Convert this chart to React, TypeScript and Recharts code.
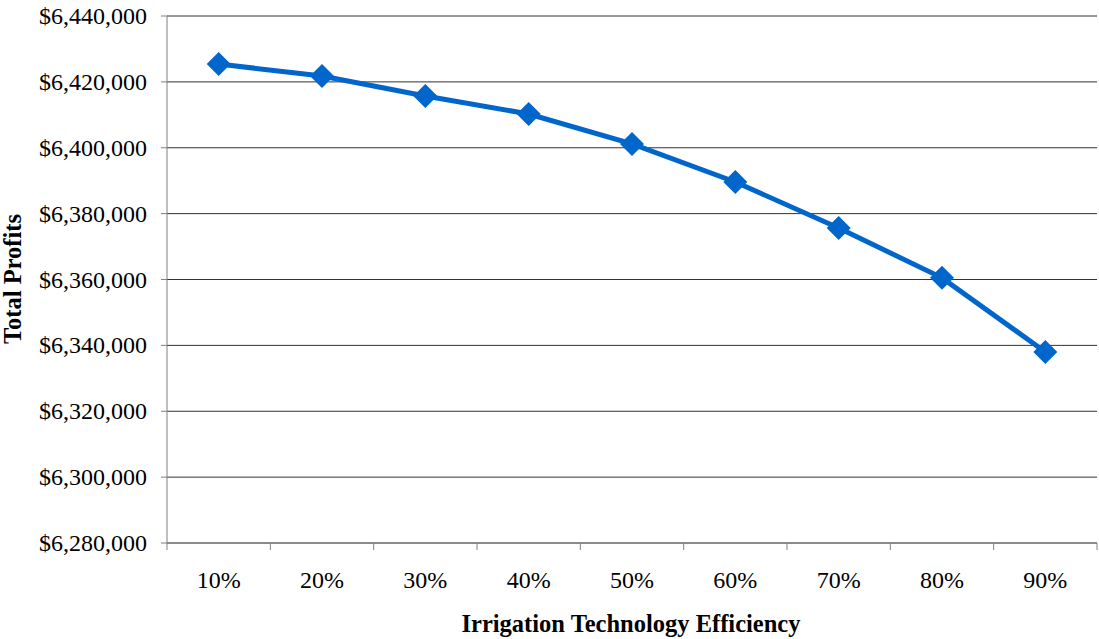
import { LineChart, Line, XAxis, YAxis, CartesianGrid } from "recharts";

const categories = ["10%", "20%", "30%", "40%", "50%", "60%", "70%", "80%", "90%"];
const profits = [6425400, 6421800, 6415700, 6410250, 6401150, 6389600, 6375650, 6360500, 6338000];
const yTicks = [6280000, 6300000, 6320000, 6340000, 6360000, 6380000, 6400000, 6420000, 6440000];

const data = categories.map((name, i) => ({ name, value: profits[i] }));

const font = '"Liberation Serif", "Times New Roman", serif';
const plotLeft = 167;
const plotRight = 1097;
const band = (plotRight - plotLeft) / categories.length;

const Diamond = (props: any) => {
  const { cx, cy } = props;
  const r = 12;
  return (
    <path
      d={`M${cx},${cy - r} L${cx + r},${cy} L${cx},${cy + r} L${cx - r},${cy} Z`}
      fill="#0066CC"
    />
  );
};

const XTick = (props: any) => {
  const { x, y, payload, index } = props;
  const last = index === categories.length - 1;
  return (
    <g>
      <line x1={x - band / 2} x2={x - band / 2} y1={y} y2={y + 7} stroke="#808080" />
      {last && <line x1={x + band / 2} x2={x + band / 2} y1={y} y2={y + 7} stroke="#808080" />}
      <text x={x} y={y + 45} textAnchor="middle" fill="#000" fontSize={24} fontFamily={font}>
        {payload.value}
      </text>
    </g>
  );
};

const YTick = (props: any) => {
  const { x, y, payload } = props;
  return (
    <text x={x} y={y + 8} textAnchor="end" fill="#000" fontSize={24} fontFamily={font}>
      {`$${Number(payload.value).toLocaleString("en-US")}`}
    </text>
  );
};

export default function App() {
  return (
    <div style={{ position: "absolute", left: 0, top: 0, fontFamily: font }}>
      <LineChart width={1099} height={639} data={data} margin={{ top: 16, right: 2, left: 0, bottom: 0 }}>
        <CartesianGrid vertical={false} stroke="#333" strokeWidth={1} />
        <XAxis
          dataKey="name"
          scale="band"
          height={96}
          tickSize={0}
          tickMargin={0}
          tickLine={false}
          interval={0}
          stroke="#808080"
          tick={<XTick />}
        />
        <YAxis
          width={167}
          domain={[6280000, 6440000]}
          ticks={yTicks}
          interval={0}
          tickSize={6}
          tickMargin={14}
          stroke="#808080"
          tick={<YTick />}
        />
        <text x={631} y={632} textAnchor="middle" fill="#000" fontSize={24.5} fontWeight="bold" fontFamily={font}>
          Irrigation Technology Efficiency
        </text>
        <text
          x={21}
          y={279}
          transform="rotate(-90 21 279)"
          textAnchor="middle"
          fill="#000"
          fontSize={24.5}
          fontWeight="bold"
          fontFamily={font}
        >
          Total Profits
        </text>
        <Line
          dataKey="value"
          stroke="#0066CC"
          strokeWidth={5}
          type="linear"
          dot={<Diamond />}
          activeDot={false}
          isAnimationActive={false}
        />
      </LineChart>
    </div>
  );
}
